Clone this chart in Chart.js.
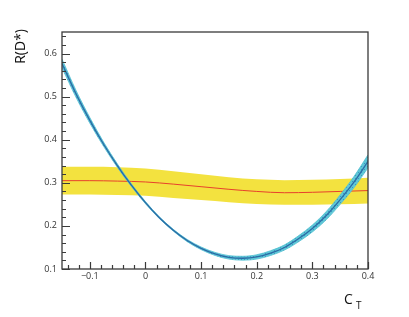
<!DOCTYPE html>
<html>
<head>
<meta charset="utf-8">
<script src="https://cdn.jsdelivr.net/npm/chart.js@4.4.0/dist/chart.umd.min.js"></script>
<style>
  html, body { margin: 0; padding: 0; background: #fff; }
  #wrap { width: 409px; height: 317px; }
</style>
</head>
<body>
<div id="wrap"><canvas id="rdChart" width="409" height="317"></canvas></div>
<script>
// C_T sample points
const ctValues = [-0.15, -0.125, -0.1, -0.075, -0.05, -0.025, 0, 0.025, 0.05, 0.075, 0.1, 0.125,
  0.15, 0.175, 0.2, 0.225, 0.25, 0.275, 0.3, 0.325, 0.35, 0.375, 0.4];
// theory prediction R(D*) vs C_T (blue) and its half width
const theoryR = [0.577, 0.507, 0.445, 0.389, 0.339, 0.294, 0.254, 0.219, 0.19, 0.166, 0.148, 0.135,
  0.127, 0.125, 0.128, 0.137, 0.15, 0.17, 0.194, 0.224, 0.261, 0.302, 0.35];
const theoryErr = [0.01, 0.008, 0.0065, 0.005, 0.004, 0.003, 0.0025, 0.002, 0.002, 0.0025, 0.003, 0.0035,
  0.004, 0.0045, 0.005, 0.0055, 0.006, 0.007, 0.008, 0.0095, 0.011, 0.013, 0.015];
// measurement band (yellow) with central value (red)
const measCt = [-0.15, -0.1, -0.05, 0, 0.05, 0.1, 0.15, 0.2, 0.25, 0.3, 0.35, 0.4];
const measR = [0.305, 0.305, 0.304, 0.302, 0.297, 0.291, 0.285, 0.28, 0.277, 0.278, 0.28, 0.282];
const measUp = [0.337, 0.337, 0.336, 0.333, 0.327, 0.32, 0.313, 0.308, 0.306, 0.307, 0.309, 0.312];
const measDn = [0.273, 0.273, 0.272, 0.27, 0.265, 0.26, 0.255, 0.251, 0.249, 0.249, 0.25, 0.252];
// tick labels
const xTicks = [-0.1, 0, 0.1, 0.2, 0.3, 0.4];
const yTicks = [0.1, 0.2, 0.3, 0.4, 0.5, 0.6];

const pts = (xs, ys) => xs.map((x, i) => ({ x: x, y: ys[i] }));

// hatched cyan pattern for the theory band
const pc = document.createElement("canvas");
pc.width = 3; pc.height = 3;
const pctx = pc.getContext("2d");
pctx.fillStyle = "#5ec6d6";
pctx.fillRect(0, 0, 3, 3);
pctx.fillStyle = "#3a9cbc";
pctx.fillRect(1, 1, 1, 1);
const hatch = pctx.createPattern(pc, "repeat");

const fmt = (v) => {
  if (Math.abs(v) < 1e-9) return "0";
  let s = v.toFixed(1);
  return s.replace("-", "\u2212");
};

// frame, inward ticks and axis titles (ROOT style)
const framePlugin = {
  id: "frame",
  afterDraw(chart) {
    const ctx = chart.ctx;
    const a = chart.chartArea;
    const xs = chart.scales.x;
    const ys = chart.scales.y;
    ctx.save();
    ctx.strokeStyle = "#3a3a3a";
    ctx.lineWidth = 1.3;
    ctx.strokeRect(a.left, a.top, a.right - a.left, a.bottom - a.top);
    ctx.lineWidth = 1.2;
    ctx.beginPath();
    for (let k = -7; k <= 20; k++) {
      const v = k * 0.02;
      if (v < xs.min - 1e-9 || v > xs.max + 1e-9) continue;
      const px = Math.round(xs.getPixelForValue(v)) + 0.5;
      const len = k % 5 === 0 ? 7 : 4;
      ctx.moveTo(px, a.bottom);
      ctx.lineTo(px, a.bottom - len);
    }
    for (let k = 5; k <= 32; k++) {
      const v = k * 0.02;
      if (v < ys.min - 1e-9 || v > ys.max + 1e-9) continue;
      const py = Math.round(ys.getPixelForValue(v)) + 0.5;
      const len = k % 5 === 0 ? 8 : 4;
      ctx.moveTo(a.left, py);
      ctx.lineTo(a.left + len, py);
    }
    ctx.stroke();

    ctx.fillStyle = "#111";
    ctx.font = "14px 'Open Sans', sans-serif";
    ctx.textBaseline = "alphabetic";
    ctx.textAlign = "left";
    ctx.fillText("C", 344, 304);
    ctx.font = "10px 'Open Sans', sans-serif";
    ctx.fillText("T", 356, 309);

    ctx.translate(25, 29);
    ctx.rotate(-Math.PI / 2);
    ctx.textAlign = "right";
    ctx.font = "14px 'Open Sans', sans-serif";
    ctx.fillText("R(D*)", 0, 0);
    ctx.restore();
  }
};

const ctx = document.getElementById("rdChart").getContext("2d");
new Chart(ctx, {
  type: "line",
  data: {
    datasets: [
      {
        label: "theory",
        data: pts(ctValues, theoryR),
        borderColor: "#2b6ba6",
        borderWidth: 1.3,
        pointRadius: 0,
        fill: false,
        cubicInterpolationMode: "monotone",
      },
      {
        label: "theory up",
        data: pts(ctValues, theoryR.map((v, i) => v + theoryErr[i])),
        borderColor: "#4fbfd2",
        borderWidth: 0.8,
        backgroundColor: hatch,
        pointRadius: 0,
        fill: "+1",
        cubicInterpolationMode: "monotone",
      },
      {
        label: "theory down",
        data: pts(ctValues, theoryR.map((v, i) => v - theoryErr[i])),
        borderColor: "#4fbfd2",
        borderWidth: 0.8,
        pointRadius: 0,
        fill: false,
        cubicInterpolationMode: "monotone",
      },
      {
        label: "measured",
        data: pts(measCt, measR),
        borderColor: "#e8412c",
        borderWidth: 1,
        pointRadius: 0,
        fill: false,
        cubicInterpolationMode: "monotone",
      },
      {
        label: "measured up",
        data: pts(measCt, measUp),
        borderWidth: 0,
        backgroundColor: "#f3e23f",
        pointRadius: 0,
        fill: "+1",
        cubicInterpolationMode: "monotone",
      },
      {
        label: "measured down",
        data: pts(measCt, measDn),
        borderWidth: 0,
        pointRadius: 0,
        fill: false,
        cubicInterpolationMode: "monotone",
      },
    ],
  },
  options: {
    responsive: false,
    animation: false,
    layout: { padding: { left: 0, top: 32, right: 41, bottom: 0 } },
    plugins: {
      legend: { display: false },
      tooltip: { enabled: false },
    },
    scales: {
      x: {
        type: "linear",
        min: -0.15,
        max: 0.4,
        grid: { display: false, drawTicks: false },
        border: { display: false },
        afterBuildTicks: (s) => { s.ticks = xTicks.map((v) => ({ value: v })); },
        afterFit: (s) => { s.height = 48; },
        ticks: {
          padding: 2,
          color: "#333",
          font: { family: "'Open Sans', sans-serif", size: 9 },
          maxRotation: 0,
          callback: (v) => fmt(v),
        },
      },
      y: {
        type: "linear",
        min: 0.1,
        max: 0.65,
        grid: { display: false, drawTicks: false },
        border: { display: false },
        afterBuildTicks: (s) => { s.ticks = yTicks.map((v) => ({ value: v })); },
        afterFit: (s) => { s.width = 62; },
        ticks: {
          padding: 5,
          color: "#333",
          font: { family: "'Open Sans', sans-serif", size: 9 },
          callback: (v) => fmt(v),
        },
      },
    },
  },
  plugins: [framePlugin],
});
</script>
</body>
</html>
